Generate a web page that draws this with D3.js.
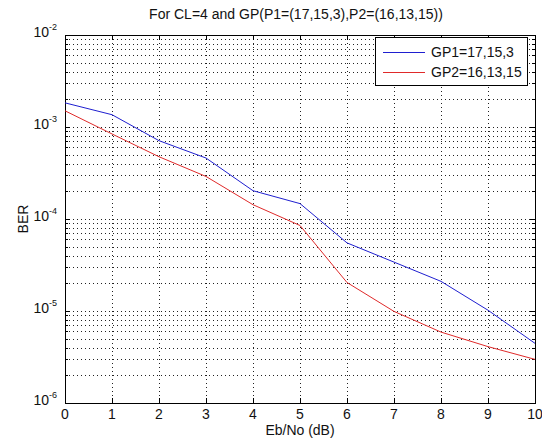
<!DOCTYPE html>
<html lang="en">
<head>
<meta charset="UTF-8">
<title>BER vs Eb/No</title>
<script src="https://d3js.org/d3.v7.min.js"></script>
<style>
  body { margin: 0; background: #fff; font-family: "Liberation Sans", Arial, sans-serif; }
  .tick-label { font-size: 14px; fill: #111; }
  .grid { stroke: #222; stroke-width: 1; stroke-dasharray: 1,3; shape-rendering: crispEdges; }
</style>
</head>
<body>
<div id="chart"></div>
<script>
const ebno = [0, 1, 2, 3, 4, 5, 6, 7, 8, 9, 10];
const gp1 = [1.83e-3, 1.36e-3, 7.1e-4, 4.6e-4, 2.03e-4, 1.47e-4, 5.5e-5, 3.4e-5, 2.1e-5, 1.02e-5, 4.45e-6];
const gp2 = [1.5e-3, 8.4e-4, 4.75e-4, 2.9e-4, 1.43e-4, 8.5e-5, 2.04e-5, 9.9e-6, 5.9e-6, 4.1e-6, 2.98e-6];
const seriesNames = ["GP1=17,15,3", "GP2=16,13,15"];
const seriesColors = ["#1f1fd0", "#e02a2a"];
const decades = [-6, -5, -4, -3, -2];

const W = 542, H = 441;
const margin = {left: 65, right: 7, top: 35, bottom: 38};
const x0 = margin.left, x1 = W - margin.right;
const y0 = margin.top, y1 = H - margin.bottom;

const svg = d3.select("#chart").append("svg").attr("width", W).attr("height", H);

const x = d3.scaleLinear().domain([0, 10]).range([x0, x1]);
const y = d3.scaleLog().domain([1e-6, 1e-2]).range([y1, y0]);

// grid lines: every 1..9 x 10^e
const minorVals = [];
decades.slice(0, -1).forEach(e => {
  for (let k = 1; k <= 9; k++) minorVals.push(k * Math.pow(10, e));
});
minorVals.push(1e-2);

svg.append("g").selectAll("line.hy").data(minorVals.filter(v => v > 1e-6 && v < 1e-2)).enter()
  .append("line").attr("class", "grid")
  .attr("x1", x0).attr("x2", x1)
  .attr("y1", d => Math.round(y(d)) + 0.5).attr("y2", d => Math.round(y(d)) + 0.5);

svg.append("g").selectAll("line.vx").data(ebno.slice(1, -1)).enter()
  .append("line").attr("class", "grid")
  .attr("y1", y0).attr("y2", y1)
  .attr("x1", d => Math.round(x(d)) + 0.5).attr("x2", d => Math.round(x(d)) + 0.5);

// ticks (inward, all four sides)
const tk = svg.append("g").attr("stroke", "#000").attr("shape-rendering", "crispEdges");
ebno.forEach(v => {
  const px = Math.round(x(v)) + 0.5;
  tk.append("line").attr("x1", px).attr("x2", px).attr("y1", y1).attr("y2", y1 - 5);
  tk.append("line").attr("x1", px).attr("x2", px).attr("y1", y0).attr("y2", y0 + 5);
});
minorVals.forEach(v => {
  const py = Math.round(y(v)) + 0.5;
  const major = Math.abs(Math.log10(v) - Math.round(Math.log10(v))) < 1e-9;
  const len = major ? 5 : 3;
  tk.append("line").attr("x1", x0).attr("x2", x0 + len).attr("y1", py).attr("y2", py);
  tk.append("line").attr("x1", x1).attr("x2", x1 - len).attr("y1", py).attr("y2", py);
});

// frame
svg.append("rect").attr("x", x0 + 0.5).attr("y", y0 + 0.5)
  .attr("width", x1 - x0).attr("height", y1 - y0)
  .attr("fill", "none").attr("stroke", "#000").attr("shape-rendering", "crispEdges");

// x tick labels
svg.append("g").selectAll("text").data(ebno).enter().append("text")
  .attr("class", "tick-label")
  .attr("x", d => x(d)).attr("y", y1 + 16)
  .attr("text-anchor", "middle").text(d => d);

// y tick labels 10^e
decades.forEach(e => {
  const t = svg.append("text").attr("class", "tick-label")
    .attr("x", x0 - 8).attr("y", y(Math.pow(10, e)) + 2)
    .attr("text-anchor", "end");
  t.append("tspan").text("10");
  t.append("tspan").attr("dy", -7).attr("font-size", "9px").text(String(e));
});

// axis labels and title
svg.append("text").attr("class", "tick-label")
  .attr("x", (x0 + x1) / 2).attr("y", H - 6)
  .attr("text-anchor", "middle").text("Eb/No (dB)");
svg.append("text").attr("class", "tick-label")
  .attr("transform", `translate(28,${(y0 + y1) / 2}) rotate(-90)`)
  .attr("text-anchor", "middle").text("BER");
svg.append("text").attr("class", "tick-label")
  .attr("x", (x0 + x1) / 2 - 4).attr("y", 19)
  .attr("text-anchor", "middle").text("For CL=4 and GP(P1=(17,15,3),P2=(16,13,15))");

// series lines
const line = d3.line().x((d, i) => x(ebno[i])).y(d => y(d));
[gp1, gp2].forEach((s, i) => {
  svg.append("path").datum(s)
    .attr("fill", "none").attr("stroke", seriesColors[i]).attr("stroke-width", 1)
    .attr("d", line);
});

// legend
const lg = svg.append("g");
const lx = 375, ly = 37, lw = 152, lh = 48;
lg.append("rect").attr("x", lx + 0.5).attr("y", ly + 0.5).attr("width", lw).attr("height", lh)
  .attr("fill", "#fff").attr("stroke", "#000").attr("shape-rendering", "crispEdges");
seriesNames.forEach((n, i) => {
  const yy = ly + 15 + i * 20;
  lg.append("line").attr("x1", lx + 8).attr("x2", lx + 50)
    .attr("y1", yy + 0.5).attr("y2", yy + 0.5)
    .attr("stroke", seriesColors[i]).attr("stroke-width", 1);
  lg.append("text").attr("class", "tick-label").attr("font-size", "14px")
    .attr("x", lx + 56).attr("y", yy + 5).text(n);
});
</script>
</body>
</html>
